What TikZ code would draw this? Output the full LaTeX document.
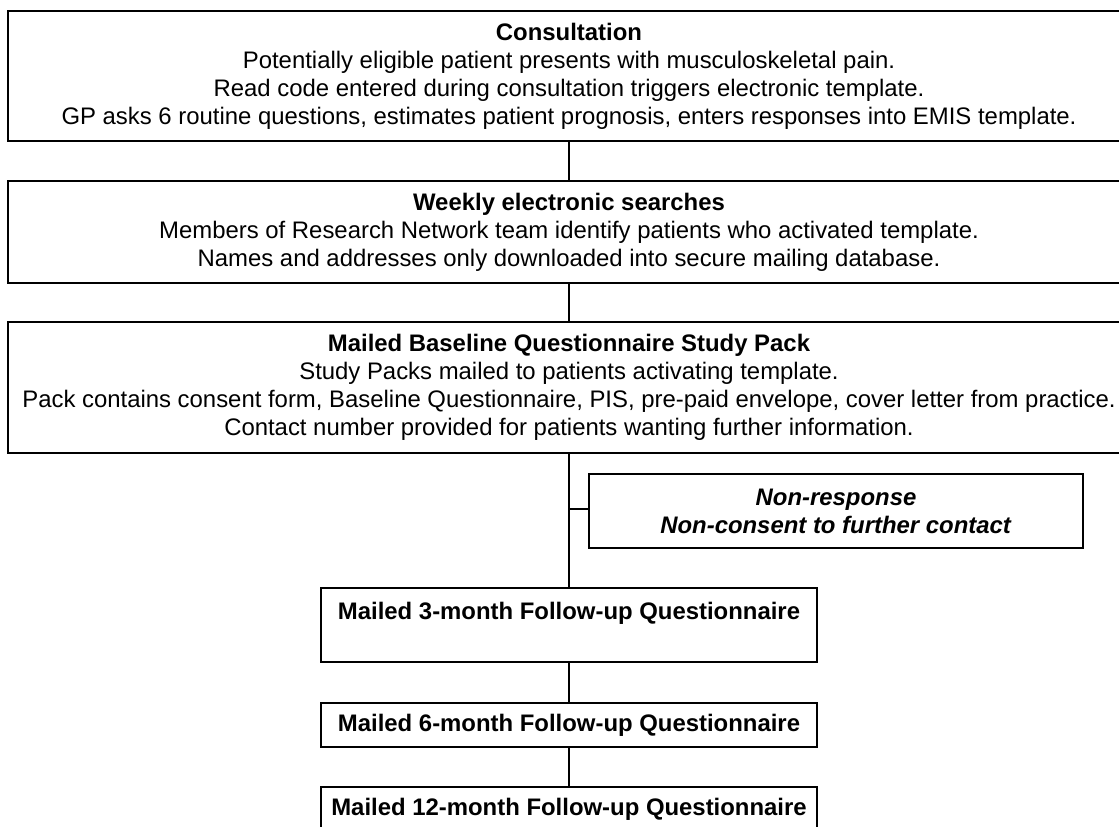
\documentclass[tikz,border=0pt]{standalone}
\usepackage{fontspec}
\setmainfont{Liberation Sans}
\begin{document}
\begin{tikzpicture}[x=1pt,y=-1pt,
  box/.style={draw, line width=1.4pt, inner sep=0pt, align=center, font=\fontsize{23.9}{28}\selectfont},
  link/.style={line width=1.4pt}]
\useasboundingbox (0,0) rectangle (1119,827);
\clip (0,0) rectangle (1119,827);
\node[box, minimum width=1122pt, minimum height=130pt] (cons) at (569,76)
  {\textbf{Consultation}\\
   Potentially eligible patient presents with musculoskeletal pain.\\
   Read code entered during consultation triggers electronic template.\\
   GP asks 6 routine questions, estimates patient prognosis, enters responses into EMIS template.};
\node[box, minimum width=1122pt, minimum height=102pt] (week) at (569,232)
  {\textbf{Weekly electronic searches}\\
   Members of Research Network team identify patients who activated template.\\
   Names and addresses only downloaded into secure mailing database.};
\node[box, minimum width=1122pt, minimum height=131pt] (base) at (569,387.5)
  {\textbf{Mailed Baseline Questionnaire Study Pack}\\
   Study Packs mailed to patients activating template.\\
   Pack contains consent form, Baseline Questionnaire, PIS, pre-paid envelope, cover letter from practice.\\
   Contact number provided for patients wanting further information.};
\node[box, minimum width=494pt, minimum height=74pt] (nonr) at (836,511)
  {\textbf{\textit{Non-response}}\\
   \textbf{\textit{Non-consent to further contact}}};
\node[box, minimum width=496pt, minimum height=74pt] (m3) at (569,625)
  {\textbf{Mailed 3-month Follow-up Questionnaire}\\ ~};
\node[box, minimum width=496pt, minimum height=44pt] (m6) at (569,725)
  {\textbf{Mailed 6-month Follow-up Questionnaire}};
\node[box, minimum width=496pt, minimum height=44pt] (m12) at (569,809)
  {\textbf{Mailed 12-month Follow-up Questionnaire}};
\coordinate (br) at (569,509);
\draw[link] (cons.south) -- (week.north);
\draw[link] (week.south) -- (base.north);
\draw[link] (base.south) -- (m3.north);
\draw[link] (br) -- (br -| nonr.west);
\draw[link] (m3.south) -- (m6.north);
\draw[link] (m6.south) -- (m12.north);
\end{tikzpicture}
\end{document}
